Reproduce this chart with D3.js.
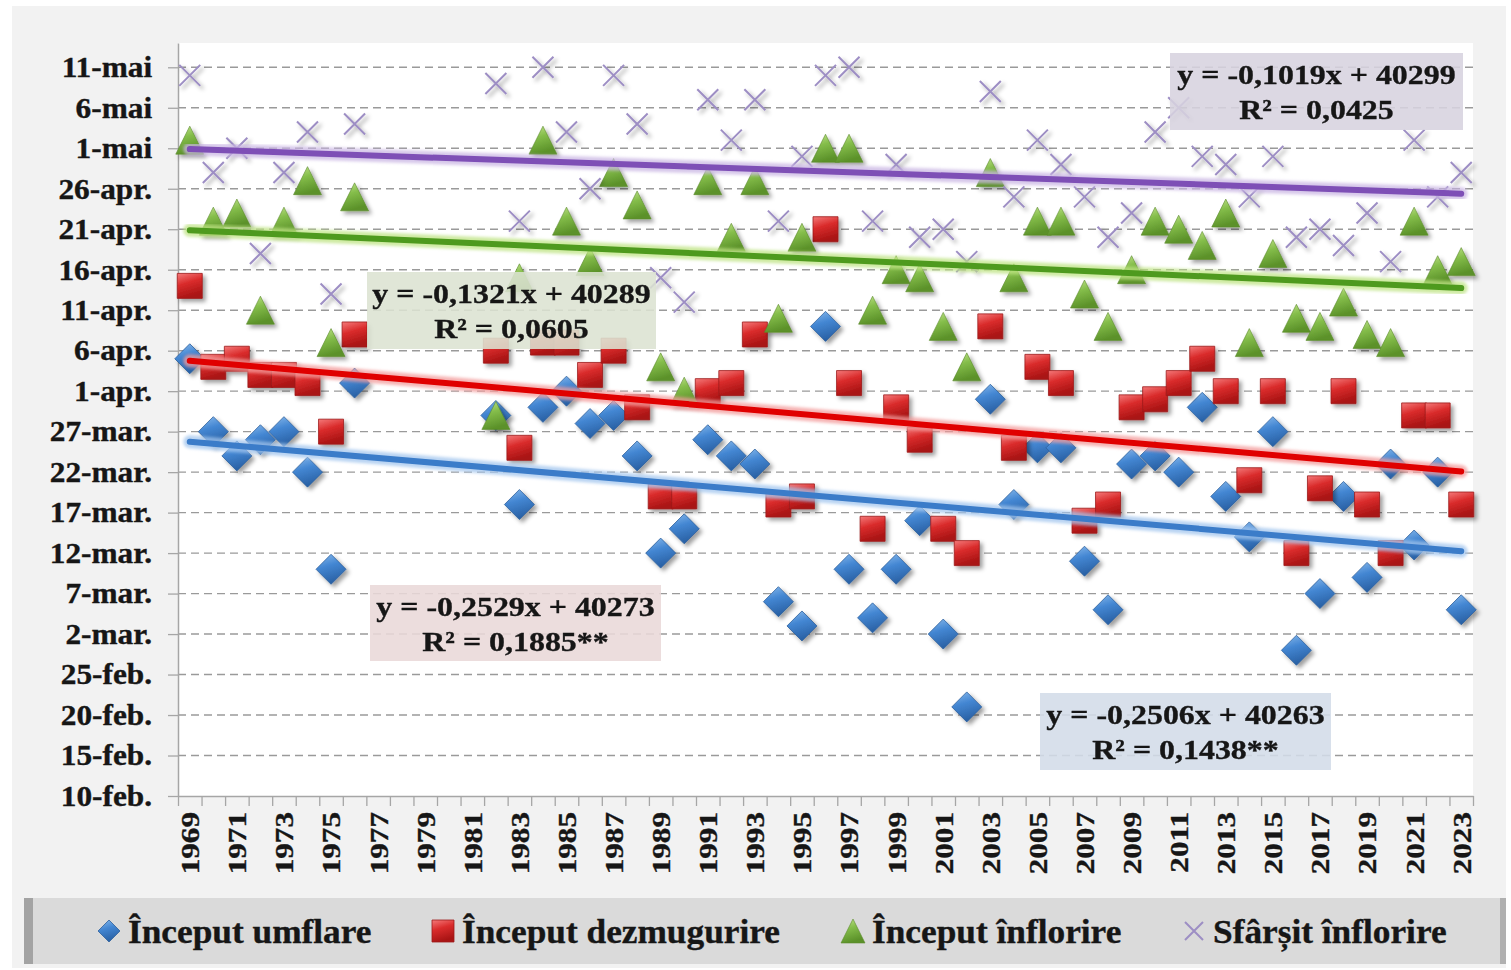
<!DOCTYPE html>
<meta charset="utf-8">
<title>Fenofaze 1969-2023</title>
<style>
  body { margin: 0; background: #fff; }
  svg text { font-family: "Liberation Serif", "Times New Roman", serif; font-weight: bold; fill: #161616;
             stroke: #161616; stroke-width: 0.35px; }
</style>
<body>
<svg id="chart" width="1511" height="970"></svg>
<script src="https://d3js.org/d3.v7.min.js"></script>
<script>

// categories (years), 1977-1981 have no observations
var years = d3.range(1969, 2024);

// y values are day of year (1 = 1 ian.)
var yTickValues = d3.range(41, 132, 5);
var yTickLabels = ["10-feb.", "15-feb.", "20-feb.", "25-feb.", "2-mar.", "7-mar.", "12-mar.",
  "17-mar.", "22-mar.", "27-mar.", "1-apr.", "6-apr.", "11-apr.", "16-apr.", "21-apr.",
  "26-apr.", "1-mai", "6-mai", "11-mai"];

var seriesNames = ["Început umflare", "Început dezmugurire", "Început înflorire", "Sfârșit înflorire"];

var umflare = [95, 86, 83, 85, 86, 81, 69, 92, null, null, null, null, null,
  88, 77, 89, 91, 87, 88, 83, 71, 74, 85, 83, 82, 65, 62, 99, 69, 63, 69, 75, 61, 52,
  90, 77, 84, 84, 70, 64, 82, 83, 81, 89, 78, 73, 86, 59, 66, 78, 68, 82, 72, 81, 64];

var dezmugurire = [104, 94, 95, 93, 93, 92, 86, 98, null, null, null, null, null,
  96, 84, 97, 97, 93, 96, 89, 78, 78, 91, 92, 98, 77, 78, 111, 92, 74, 89, 85, 74, 71,
  99, 84, 94, 92, 75, 77, 89, 90, 92, 95, 91, 80, 91, 71, 79, 91, 77, 71, 88, 88, 77];

var inflorire = [122, 112, 113, 101, 112, 117, 97, 115, null, null, null, null, null,
  88, 105, 122, 112, 107, 118, 114, 94, 91, 117, 110, 117, 100, 110, 121, 121, 101, 106, 105, 99, 94,
  118, 105, 112, 112, 103, 99, 106, 112, 111, 109, 113, 97, 108, 100, 99, 102, 98, 97, 112, 106, 107];

var sfarsit = [130, 118, 121, 108, 118, 123, 103, 124, null, null, null, null, null,
  129, 112, 131, 123, 116, 130, 124, 105, 102, 127, 122, 127, 112, 120, 130, 131, 112, 119, 110, 111, 107,
  128, 115, 122, 119, 115, 110, 113, 123, 126, 120, 119, 115, 120, 110, 111, 109, 113, 107, 122, 115, 118];

// linear trends as printed (x = 1..55, y = Excel date serial in 2010)
var trendSlope = [-0.2506, -0.2529, -0.1321, -0.1019];
var trendIntercept = [40263, 40273, 40289, 40299];
var trendR2 = ["0,1438**", "0,1885**", "0,0605", "0,0425"];
var serialDay0 = 40178; // serial of 31-dec-2009

var allValues = [umflare, dezmugurire, inflorire, sfarsit];

var W = 1511, H = 970;
var plot = {left: 178, right: 1473, top: 43, bottom: 796};

var svg = d3.select("#chart");
var defs = svg.append("defs");

var x = d3.scaleBand().domain(years).range([plot.left, plot.right]);
var y = d3.scaleLinear().domain([41, 134]).range([plot.bottom, plot.top]);
function cx(yr) { return x(yr) + x.bandwidth() / 2; }

// gradients + shadow for the 3d looking markers
function grad(id, stops) {
  var g = defs.append("linearGradient").attr("id", id)
    .attr("x1", 0).attr("y1", 0).attr("x2", 0.3).attr("y2", 1);
  stops.forEach(function(s) { g.append("stop").attr("offset", s[0]).attr("stop-color", s[1]); });
}
grad("gBlue", [[0, "#8bbbec"], [0.45, "#4487d3"], [1, "#2a62a6"]]);
grad("gRed", [[0, "#f47a7a"], [0.45, "#da2c2c"], [1, "#a91414"]]);
grad("gGreen", [[0, "#c4e58e"], [0.45, "#84bd4a"], [1, "#5b9129"]]);

var sh = defs.append("filter").attr("id", "shadow")
  .attr("x", "-50%").attr("y", "-50%").attr("width", "200%").attr("height", "200%");
sh.append("feDropShadow").attr("dx", 3).attr("dy", 3).attr("stdDeviation", 2.2)
  .attr("flood-color", "#000").attr("flood-opacity", 0.38);

var soft = defs.append("filter").attr("id", "soft")
  .attr("x", "-10%").attr("y", "-10%").attr("width", "120%").attr("height", "120%");
soft.append("feGaussianBlur").attr("stdDeviation", 1.6);

// marker shapes
function diamond(r) { return "M0," + (-r) + "L" + r + ",0L0," + r + "L" + (-r) + ",0Z"; }
function square(s) { var h = s / 2; return "M" + (-h) + "," + (-h) + "h" + s + "v" + s + "h" + (-s) + "Z"; }
function triangle(s) { var h = s / 2; return "M0," + (-h) + "L" + h + "," + h + "L" + (-h) + "," + h + "Z"; }
function cross(r) { return "M" + (-r) + "," + (-r) + "L" + r + "," + r + "M" + (-r) + "," + r + "L" + r + "," + (-r); }

var styles = [
  {path: diamond(15), small: diamond(11), fill: "url(#gBlue)", stroke: "#2d5f9c", sw: 0.8,
   line: "#3b7cc9", glow: "#a2c6ee", box: "#d3dce8"},
  {path: square(25), small: square(22), fill: "url(#gRed)", stroke: "#9c1a1a", sw: 0.8,
   line: "#e00000", glow: "#f39b9b", box: "#e9d8d8"},
  {path: triangle(28), small: triangle(24), fill: "url(#gGreen)", stroke: "#5a8a2c", sw: 0.6,
   line: "#4e9a1e", glow: "#bde383", box: "#dce3d1"},
  {path: cross(10.5), small: cross(9), fill: "none", stroke: "#9d8ec4", sw: 2,
   line: "#7e4fb6", glow: "#cab6e3", box: "#d7d3df"}
];

// backgrounds
svg.append("rect").attr("width", W).attr("height", H).attr("fill", "#fff");
svg.append("rect").attr("x", 12).attr("y", 6).attr("width", 1494).attr("height", 962).attr("fill", "#f2f2f2");
svg.append("rect").attr("x", plot.left).attr("y", plot.top)
  .attr("width", plot.right - plot.left).attr("height", plot.bottom - plot.top).attr("fill", "#fff");

// gridlines
svg.append("g").selectAll("line")
  .data(yTickValues.slice(1))
  .enter().append("line")
    .attr("x1", plot.left).attr("x2", plot.right)
    .attr("y1", function(d) { return y(d); }).attr("y2", function(d) { return y(d); })
    .attr("stroke", "#9a9a9a").attr("stroke-width", 1.4).attr("stroke-dasharray", "8,5");

// y axis
var yAxis = d3.axisLeft(y).tickValues(yTickValues)
  .tickFormat(function(d, i) { return yTickLabels[i]; })
  .tickSize(10).tickSizeOuter(0).tickPadding(14);
var gy = svg.append("g").attr("transform", "translate(" + plot.left + ",0)").call(yAxis);
gy.attr("font-size", null).attr("font-family", null);
gy.select(".domain").attr("stroke", "#a6a6a6").attr("stroke-width", 1.5);
gy.selectAll(".tick line").attr("stroke", "#a6a6a6").attr("stroke-width", 1.3);
gy.selectAll(".tick text").attr("font-size", 29).attr("fill", "#161616")
  .attr("transform", "scale(1.08,1)");

// x axis: ticks between categories, labels every second year
var xEdge = d3.scaleLinear().domain([0, years.length]).range([plot.left, plot.right]);
var gxTicks = svg.append("g").attr("transform", "translate(0," + plot.bottom + ")")
  .call(d3.axisBottom(xEdge).tickValues(d3.range(0, years.length + 1)).tickFormat("").tickSize(10).tickSizeOuter(0));
gxTicks.select(".domain").attr("stroke", "#a6a6a6").attr("stroke-width", 1.5);
gxTicks.selectAll(".tick line").attr("stroke", "#a6a6a6").attr("stroke-width", 1.3);

var gx = svg.append("g").attr("transform", "translate(0," + plot.bottom + ")")
  .call(d3.axisBottom(x).tickValues(years.filter(function(d, i) { return i % 2 === 0; })).tickSize(0));
gx.attr("font-size", null).attr("font-family", null);
gx.select(".domain").remove();
gx.selectAll(".tick text")
  .attr("x", 0).attr("y", 0).attr("dy", "0.36em")
  .attr("text-anchor", "end").attr("font-size", 26).attr("fill", "#161616")
  .attr("transform", "translate(0,16) rotate(-90) scale(1.2,1)");

// markers
allValues.forEach(function(vals, s) {
  var st = styles[s];
  var pts = years.map(function(yr, i) { return {year: yr, v: vals[i]}; })
    .filter(function(d) { return d.v != null; });
  svg.append("g").attr("class", "series-" + s)
    .attr("filter", "url(#shadow)")
    .selectAll("path")
    .data(pts)
    .enter().append("path")
      .attr("d", st.path)
      .attr("transform", function(d) { return "translate(" + cx(d.year) + "," + y(d.v) + ")"; })
      .attr("fill", st.fill)
      .attr("stroke", st.stroke)
      .attr("stroke-width", st.sw);
});

// trend lines
var trendLine = d3.line()
  .x(function(d) { return d.x; })
  .y(function(d) { return d.y; });
trendSlope.forEach(function(a, s) {
  var st = styles[s];
  var ends = [1, years.length].map(function(idx) {
    return {x: cx(years[idx - 1]), y: y(a * idx + trendIntercept[s] - serialDay0)};
  });
  svg.append("path").attr("d", trendLine(ends))
    .attr("stroke", st.glow).attr("stroke-width", 13).attr("stroke-opacity", 0.75)
    .attr("fill", "none").attr("stroke-linecap", "round").attr("filter", "url(#soft)");
  svg.append("path").attr("d", trendLine(ends))
    .attr("stroke", st.line).attr("stroke-width", 6)
    .attr("fill", "none").attr("stroke-linecap", "round");
});

// trend equation labels (box top-left, size)
var labelBoxes = [
  {x: 1040, y: 693, w: 291, h: 77},
  {x: 370, y: 585, w: 291, h: 76},
  {x: 367, y: 272, w: 289, h: 77},
  {x: 1170, y: 53, w: 293, h: 77}
];
function comma(v) { return String(v).replace(".", ","); }
labelBoxes.forEach(function(b, s) {
  var g = svg.append("g");
  g.append("rect").attr("x", b.x).attr("y", b.y).attr("width", b.w).attr("height", b.h)
    .attr("fill", styles[s].box).attr("fill-opacity", 0.88);
  var mid = b.x + b.w / 2;
  g.append("text").attr("transform", "translate(" + mid + "," + (b.y + 31) + ") scale(1.14,1)")
    .attr("text-anchor", "middle").attr("font-size", 28)
    .text("y = " + comma(trendSlope[s]) + "x + " + trendIntercept[s]);
  g.append("text").attr("transform", "translate(" + mid + "," + (b.y + 66) + ") scale(1.14,1)")
    .attr("text-anchor", "middle").attr("font-size", 28)
    .text("R² = " + trendR2[s]);
});

// legend band
svg.append("rect").attr("x", 24).attr("y", 898).attr("width", 1482).attr("height", 66).attr("fill", "#dadada");
svg.append("rect").attr("x", 24).attr("y", 898).attr("width", 9).attr("height", 66).attr("fill", "#a3a3a3");
svg.append("rect").attr("x", 1500).attr("y", 898).attr("width", 6).attr("height", 66).attr("fill", "#b0b0b0");

var legendX = [128, 462, 872, 1213];
var legend = svg.append("g").selectAll("g")
  .data(seriesNames)
  .enter().append("g")
    .attr("transform", function(d, i) { return "translate(" + legendX[i] + ",931)"; });
legend.append("path")
  .attr("d", function(d, i) { return styles[i].small; })
  .attr("transform", "translate(-19,0)")
  .attr("fill", function(d, i) { return styles[i].fill; })
  .attr("stroke", function(d, i) { return styles[i].stroke; })
  .attr("stroke-width", function(d, i) { return styles[i].sw; });
legend.append("text")
  .attr("dy", "0.36em")
  .attr("font-size", 33)
  .attr("transform", "scale(1.07,1)")
  .text(function(d) { return d; });

</script>
</body>
